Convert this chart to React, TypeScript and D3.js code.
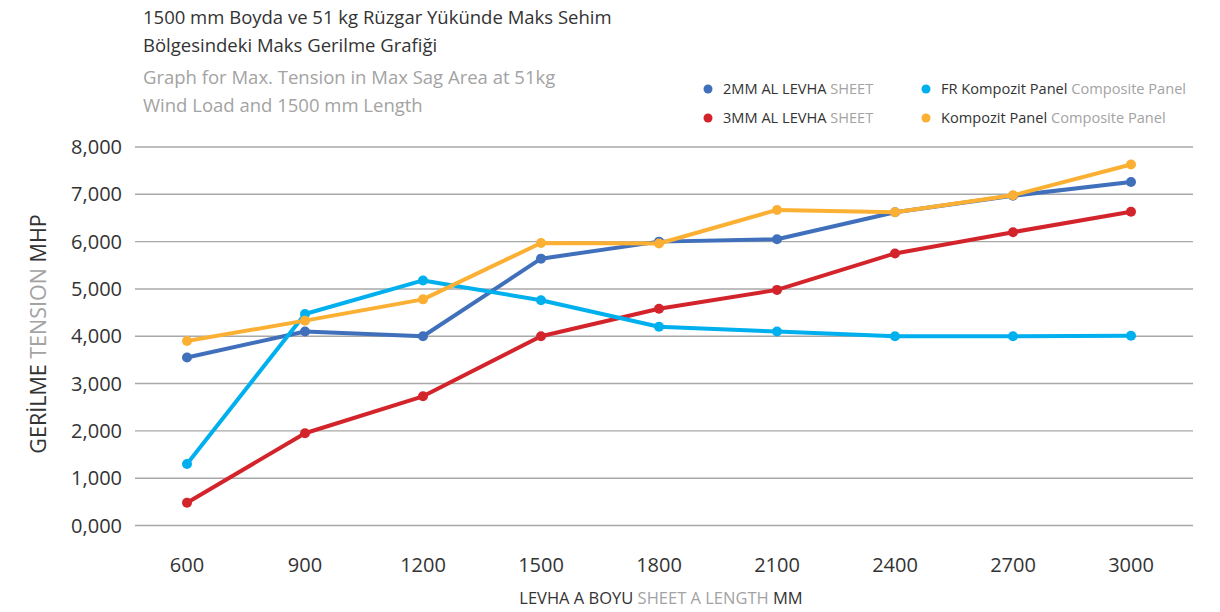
import React from "react";
import * as d3 from "d3";

const lengths = ["600", "900", "1200", "1500", "1800", "2100", "2400", "2700", "3000"];
const sheet2mm = [3550, 4100, 4000, 5640, 6000, 6050, 6620, 6970, 7260];
const sheet3mm = [480, 1950, 2730, 4000, 4580, 4980, 5750, 6200, 6630];
const frPanel = [1300, 4470, 5180, 4760, 4200, 4100, 4000, 4000, 4010];
const kompozit = [3900, 4330, 4780, 5970, 5960, 6670, 6620, 6980, 7630];
const yTicks = [0, 1000, 2000, 3000, 4000, 5000, 6000, 7000, 8000];

const series = [
  { key: "2mm", values: sheet2mm, color: "#4070bb", main: "2MM AL LEVHA", sub: "SHEET" },
  { key: "3mm", values: sheet3mm, color: "#d3242c", main: "3MM AL LEVHA", sub: "SHEET" },
  { key: "fr", values: frPanel, color: "#00b0ee", main: "FR Kompozit Panel", sub: "Composite Panel" },
  { key: "komp", values: kompozit, color: "#fbb034", main: "Kompozit Panel", sub: "Composite Panel" },
];

const W = 1220;
const H = 612;
const FONT = "'Open Sans', sans-serif";
const DARK = "#333333";
const GREY = "#a3a3a3";

export default function App() {
  const x = d3.scalePoint<string>().domain(lengths).range([187, 1131]);
  const y = d3.scaleLinear().domain([0, 8000]).range([525.5, 147]);
  const line = d3
    .line<number>()
    .x((_, i) => x(lengths[i]) as number)
    .y((v) => y(v));
  const fmt = (v: number) => (v === 0 ? "0,000" : d3.format(",")(v));

  const legendPos = [
    { x: 708, y: 89 },
    { x: 708, y: 118 },
    { x: 926, y: 89 },
    { x: 926, y: 118 },
  ];

  return (
    <div style={{ position: "fixed", left: 0, top: 0 }}>
      <svg width={W} height={H} style={{ display: "block", background: "#fff" }}>
        {/* Titles */}
        <g fontFamily={FONT} fontSize={18.5}>
          <text x={143} y={24} fill={DARK}>1500 mm Boyda ve 51 kg Rüzgar Yükünde Maks Sehim</text>
          <text x={143} y={52} fill={DARK}>Bölgesindeki Maks Gerilme Grafiği</text>
          <text x={143} y={84} fill={GREY}>Graph for Max. Tension in Max Sag Area at 51kg</text>
          <text x={143} y={112} fill={GREY}>Wind Load and 1500 mm Length</text>
        </g>

        {/* Legend */}
        <g fontFamily={FONT} fontSize={14.6}>
          {series.map((s, i) => (
            <g key={s.key}>
              <circle cx={legendPos[i].x} cy={legendPos[i].y} r={4.5} fill={s.color} />
              <text x={legendPos[i].x + 15} y={legendPos[i].y + 5} fill={DARK}>
                {s.main} <tspan fill={GREY}>{s.sub}</tspan>
              </text>
            </g>
          ))}
        </g>

        {/* Grid & y ticks */}
        {yTicks.map((t) => (
          <g key={t}>
            <line x1={135} x2={1193} y1={y(t)} y2={y(t)} stroke="#a8a8a8" strokeWidth={1.4} />
            <text
              x={122}
              y={y(t) + 7}
              textAnchor="end"
              fontFamily={FONT}
              fontSize={20}
              fill={DARK}
            >
              {fmt(t)}
            </text>
          </g>
        ))}

        {/* X ticks */}
        {lengths.map((l) => (
          <text
            key={l}
            x={x(l) as number}
            y={572}
            textAnchor="middle"
            fontFamily={FONT}
            fontSize={20}
            fill={DARK}
          >
            {l}
          </text>
        ))}

        {/* Axis titles */}
        <text
          transform={`translate(46, 334) rotate(-90)`}
          textAnchor="middle"
          fontFamily={FONT}
          fontSize={21.5}
          fill={DARK}
        >
          GERİLME <tspan fill={GREY}>TENSION</tspan> MHP
        </text>
        <text x={661} y={604} textAnchor="middle" fontFamily={FONT} fontSize={16.5} fill={DARK}>
          LEVHA A BOYU <tspan fill={GREY}>SHEET A LENGTH</tspan> MM
        </text>

        {/* Series */}
        {series.map((s) => (
          <g key={s.key}>
            <path d={line(s.values) || ""} fill="none" stroke={s.color} strokeWidth={4} strokeLinejoin="round" />
            {s.values.map((v, i) => (
              <circle key={i} cx={x(lengths[i]) as number} cy={y(v)} r={5} fill={s.color} />
            ))}
          </g>
        ))}
      </svg>
    </div>
  );
}
